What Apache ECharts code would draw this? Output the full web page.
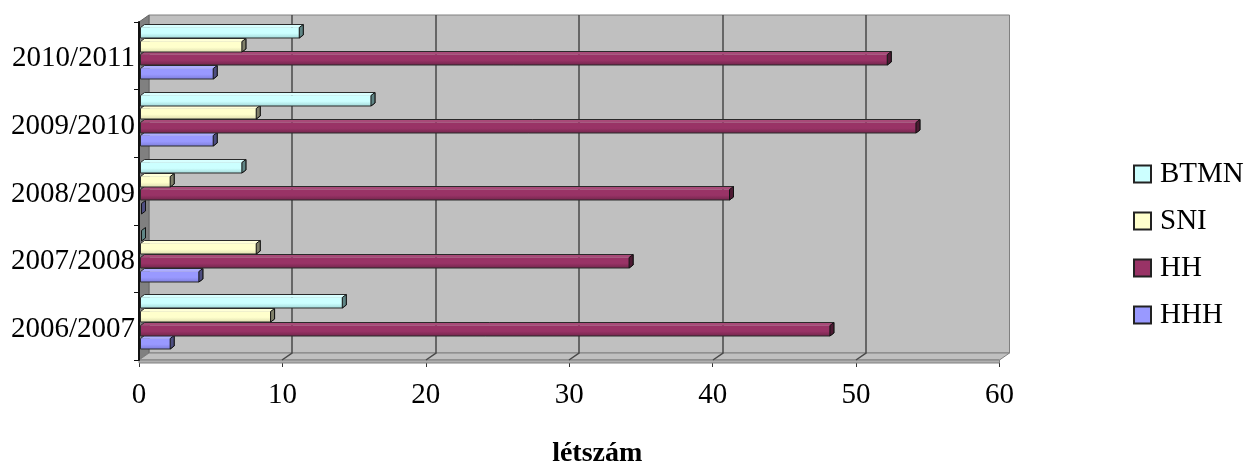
<!DOCTYPE html>
<html>
<head>
<meta charset="utf-8">
<style>html,body{margin:0;padding:0;background:#fff}#c{width:1246px;height:464px}</style>
<script src="https://cdn.jsdelivr.net/npm/echarts@6/dist/echarts.min.js"></script>
</head>
<body>
<div id="c"></div>
<script>
const categories = ['2006/2007','2007/2008','2008/2009','2009/2010','2010/2011'];
const HHH  = [2, 4, 0, 5, 5];
const HH   = [48, 34, 41, 54, 52];
const SNI  = [9, 8, 2, 8, 7];
const BTMN = [14, 0, 7, 16, 11];
const gridTicks = [0, 10, 20, 30, 40, 50, 60];
const legendOrder = ['BTMN', 'SNI', 'HH', 'HHH'];
const palette = {
  HHH:  {base:'#9999FF', low:'#7F7FDD', top:'#ADADFF', side:'#4D4D80'},
  HH:   {base:'#993366', low:'#74264D', top:'#A84A78', side:'#4D1A33'},
  SNI:  {base:'#FFFFCC', low:'#DEDEB0', top:'#FFFFD8', side:'#80806A'},
  BTMN: {base:'#CCFFFF', low:'#A4DADA', top:'#D8FFFF', side:'#5F8585'}
};
const FONT = '"Liberation Serif","Times New Roman",serif';
const DX = 10, DY = 7;

function wallItem(params, api) {
  const cs = params.coordSys;
  const L = cs.x, R = cs.x + cs.width, T = cs.y, B = cs.y + cs.height;
  const kids = [
    {type:'polygon', shape:{points:[[L+DX,T-DY],[R+DX,T-DY],[R+DX,B-DY],[L+DX,B-DY]]}, style:{fill:'#C0C0C0', stroke:'#808080', lineWidth:1}},
    {type:'polygon', shape:{points:[[L,T],[L+DX,T-DY],[L+DX,B-DY],[L,B]]}, style:{fill:'#808080', stroke:'#666', lineWidth:1}},
    {type:'polygon', shape:{points:[[L,B],[L+DX,B-DY],[R+DX,B-DY],[R,B]]}, style:{fill:'#C0C0C0', stroke:'#808080', lineWidth:1}},
    {type:'polygon', shape:{points:[[L,B],[R,B],[R,B+3],[L,B+3]]}, style:{fill:'#B0B0B0', stroke:'#808080', lineWidth:1}}
  ];
  gridTicks.slice(1, -1).forEach(function (t) {
    const x = Math.round(api.coord([t, 0])[0]);
    kids.push({type:'polyline', shape:{points:[[x,B],[x+DX,B-DY],[x+DX,T-DY]]}, style:{fill:null, stroke:'#484848', lineWidth:1.5}});
  });
  return {type:'group', children:kids};
}

function barRenderer(slot, c) {
  return function (params, api) {
    const v = api.value(0), idx = api.value(1);
    const p0 = api.coord([0, idx]), p = api.coord([v, idx]);
    const bottom = Math.round(p0[1] + 23 - slot * 13.6);
    const top = bottom - 10.5;
    const L = p0[0] + 1.5, Rt = p[0] + 2.5;
    const d = 4, h = 3;
    const kids = [];
    if (v > 0) {
      kids.push({type:'polygon', shape:{points:[[L,top],[L+d,top-h],[Rt+d,top-h],[Rt,top]]},
        style:{fill:c.top, stroke:'none'}});
      kids.push({type:'rect', shape:{x:L, y:top, width:Rt-L, height:bottom-top},
        style:{fill:new echarts.graphic.LinearGradient(0,0,0,1,[{offset:0,color:c.base},{offset:.55,color:c.base},{offset:1,color:c.low}]), stroke:'none'}});
      kids.push({type:'polygon', shape:{points:[[L,top],[L+d,top-h],[Rt+d,top-h],[Rt+d,bottom-h],[Rt,bottom],[L,bottom]]},
        style:{fill:null, stroke:'#2a2a2a', lineWidth:1}});
    }
    kids.push({type:'polygon', shape:{points:[[Rt,top],[Rt+d,top-h],[Rt+d,bottom-h],[Rt,bottom]]},
      style:{fill:c.side, stroke:'#111', lineWidth:1}});
    return {type:'group', children:kids};
  };
}

function barSeries(name, values, slot) {
  const c = palette[name];
  return {
    name: name, type:'custom', clip:false, z:3,
    itemStyle:{color:c.base, borderColor:'#222', borderWidth:1},
    encode:{x:0, y:1},
    data: values.map(function (v, i) { return [v, i]; }),
    renderItem: barRenderer(slot, c)
  };
}

const chart = echarts.init(document.getElementById('c'), null, {renderer:'canvas'});
chart.setOption({
  animation:false,
  backgroundColor:'#fff',
  textStyle:{fontFamily:FONT},
  grid:{left:139, top:22, width:860.5, height:338, containLabel:false, outerBoundsMode:'none'},
  legend:{
    orient:'vertical', left:1128, top:153, icon:'rect', itemWidth:17, itemHeight:17, itemGap:15, selectedMode:false,
    data:legendOrder,
    textStyle:{fontFamily:FONT, fontSize:29, color:'#000', lineHeight:32, padding:[0,0,0,4]}
  },
  xAxis:{
    type:'value', min:0, max:60, interval:10,
    splitLine:{show:false},
    axisLine:{show:true, lineStyle:{color:'#333', width:1}},
    axisTick:{show:true, length:7, lineStyle:{color:'#333'}},
    axisLabel:{fontFamily:FONT, fontSize:29, color:'#000', margin:21},
    name:'létszám', nameLocation:'middle', nameGap:80,
    nameTextStyle:{fontFamily:FONT, fontSize:28, fontWeight:'bold', color:'#000', padding:[0,0,0,56]}
  },
  yAxis:{
    type:'category', data:categories,
    axisLine:{show:true, lineStyle:{color:'#111', width:2}},
    axisTick:{show:true, length:5, lineStyle:{color:'#111'}},
    axisLabel:{
      fontFamily:FONT, fontSize:29, color:'#000', margin:4,
      formatter:'{v|{value}}',
      rich:{v:{fontFamily:FONT, fontSize:29, color:'#000', lineHeight:34, padding:[6,0,0,0]}}
    },
    z:5
  },
  series:[
    {name:'wall', type:'custom', clip:false, z:1, silent:true, data:[[0,0]], encode:{x:0,y:1}, renderItem:wallItem},
    barSeries('HHH', HHH, 0),
    barSeries('HH', HH, 1),
    barSeries('SNI', SNI, 2),
    barSeries('BTMN', BTMN, 3)
  ]
});
</script>
</body>
</html>
